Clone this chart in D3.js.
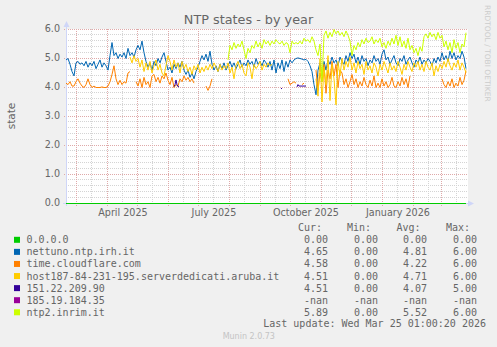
<!DOCTYPE html>
<html>
<head>
<meta charset="utf-8">
<script src="https://cdn.jsdelivr.net/npm/d3@7"></script>
<style>
  html, body { margin: 0; padding: 0; background: #F0F0F0; }
  svg { display: block; }
</style>
</head>
<body>
<svg id="chart" width="497" height="347"></svg>
<script>
// ---- data -----------------------------------------------------------
// Daily NTP peer state, sampled every 2 days from the start of the window.
const DAY_STEP = 2;
const startTime = Date.UTC(2025, 1, 18, 1, 0, 20);
const spanDays = 400;

const nettuno = [
  4.95, 5.0, 4.8, 4.55, 4.4, 4.85, 4.9, 4.8, 4.85, 4.75,
  4.9, 4.7, 4.85, 4.75, 4.9, 4.65, 4.8, 4.95, 4.7, 4.85,
  4.75, 4.6, 5.1, 5.55, 5.1, 5.2, 5.0, 5.15, 5.05, 5.2,
  5.0, 5.35, 5.1, 5.2, 5.05, 5.3, 5.45, 5.3, 5.6, 5.2,
  4.9, 4.7, 4.85, 4.6, 4.9, 4.75, 5.0, 4.85, 5.05, 5.2,
  4.9, 4.6, 4.7, 4.5, 4.8, 4.65, 4.85, 4.7, 4.9, 4.6,
  4.45, 4.6, 4.35, 4.5, 4.3, 4.55, 4.7, 4.9, 5.1, 4.95,
  5.15, 4.9, 5.25, 4.8, 4.6, 4.75, 4.55, 4.8, 4.65, 4.85,
  4.6, 4.75, 4.9, 4.7, 4.85, 4.65, 4.8, 4.95, 4.7, 4.85,
  4.75, 4.95, 4.8, 4.9, 4.7, 5.0, 4.8, 4.9, 4.75, 4.95,
  4.85, 4.7, 4.9, 4.6, 4.95, 4.5, 4.85, 4.65, 4.95, 4.55,
  4.9, 4.7, 4.95, 4.85, 4.95, 5.0, 5.02, 5.0, 4.98, 4.95,
  4.97, 4.9, 4.75, 4.55, 4.1, 3.75, 4.6, 4.85, 4.4, 4.9,
  4.6, 4.95, 4.8, 5.05, 4.85, 4.95, 4.75, 5.05, 4.9, 4.8,
  5.1, 4.9, 5.2, 5.0, 5.15, 4.85, 5.05, 4.8, 5.1, 4.9,
  5.0, 4.75, 4.95, 4.85, 5.1, 4.9, 5.0, 4.8, 5.15, 5.3,
  4.95, 5.05, 4.8, 4.95, 5.1, 4.85, 4.75, 5.0, 4.9, 5.1,
  4.8, 4.95, 5.05, 4.85, 4.7, 4.95, 4.85, 5.05, 4.8, 4.95,
  4.85, 5.0, 4.9, 4.75, 5.0, 4.85, 5.05, 4.9, 5.2, 4.95,
  5.1, 4.9, 5.25, 5.0, 5.2, 4.95, 5.1, 5.0, 5.25, 5.05,
  4.65
];

const cloudflare = [
  4.15, 4.1, 4.2, 4.05, 4.05, 4.2, 4.3, 4.15, 4.05, 4.0,
  4.1, 4.3, 4.1, 4.0, 4.05, 4.0, 4.0, 4.0, 4.02, 4.0,
  4.0, 4.05, 4.2, 4.45, 4.75, 4.3, 4.1, 4.25, 4.1, 4.2,
  4.15, 4.5, 4.55, null, null, 4.2, 4.05, 4.3, 4.0, 4.35,
  4.1, 4.2, 4.0, 4.4, 4.45, 4.2, 4.35, 4.15, 4.4, 4.3,
  4.5, 4.25, 4.1, 4.35, 4.0, 4.1, 4.05, 4.3, 4.2, 4.4,
  4.25, 4.35, 4.2, 4.3, 4.15, null, null, null, null, null,
  4.05, 3.9, 4.05, 4.3, null, null, null, null, null, null,
  null, null, null, null, null, null, null, null, null, null,
  null, null, null, null, null, null, null, null, null, null,
  null, null, null, null, null, null, null, null, null, null,
  null, 4.3, 4.1, 4.15, 4.2, 4.15, null, null, 4.1, 4.15,
  null, null, null, null, null, 4.6, 3.9, 4.5, 4.2, 4.8,
  3.8, 4.6, 4.3, 4.9, 4.4, 4.8, 4.0, 4.6, 4.5, 4.1,
  4.3, 4.0, 4.2, 4.45, 4.1, 4.3, 4.0, 4.2, 4.05, 4.35,
  4.1, 4.0, 4.25, 4.05, 4.4, 4.0, 4.15, 4.0, 4.3, 4.05,
  4.2, 4.0, 4.1, 4.35, 4.05, 4.0, 4.2, 4.05, 4.35, 4.1,
  4.3, 4.0, 4.4, null, null, null, null, null, null, null,
  null, null, null, null, null, null, null, null, 4.3, 4.1,
  4.0, 4.2, 4.05, 4.3, 4.0, 4.15, 4.05, 4.35, 4.1, 4.25,
  4.58
];

const aruba = [
  null, null, null, null, null, null, null, null, null, null,
  null, null, null, null, null, null, null, null, null, null,
  null, null, null, null, null, null, null, null, null, null,
  null, null, 5.05, 4.85, 5.1, 4.9, 5.0, 4.7, 4.95, 4.55,
  4.85, 4.6, 4.9, 4.5, 4.75, 4.95, 4.6, 4.8, 4.5, 4.4,
  4.75, 5.1, 4.9, 4.6, 4.95, 4.7, 4.85, 4.5, 4.9, 4.65,
  4.8, 4.55, 4.7, 4.45, 4.75, 4.6, 4.8, 4.5, 4.7, 4.55,
  4.75, 4.6, 4.8, 4.65, 4.85, 4.7, 4.55, 4.8, 4.6, 4.75,
  4.65, 4.85, 4.5, 4.7, 4.3, 4.75, 4.9, 4.65, 4.8, 4.5,
  4.4, 4.85, 4.7, 4.3, 4.8, 4.65, 4.75, 4.9, 4.6, 4.8,
  4.7, 4.85, 4.75, 4.8, null, null, null, null, null, null,
  null, null, null, null, null, null, null, null, null, null,
  null, null, null, null, null, 4.3, 3.7, 5.0, 3.5, 4.7,
  4.1, 5.1, 3.55, 4.8, 4.3, 3.4, 4.9, 4.4, 5.0, 4.6,
  4.9, 4.7, 5.05, 4.6, 4.85, 4.5, 4.9, 4.65, 4.8, 4.45,
  4.9, 4.6, 4.75, 4.5, 4.85, 4.7, 4.4, 4.8, 4.6, 4.9,
  4.7, 4.5, 4.85, 4.6, 4.75, 4.55, 4.9, 4.7, 4.45, 4.8,
  4.6, 4.9, 4.7, 4.55, 4.85, 4.7, 4.9, 4.6, 4.8, 4.55,
  4.9, 4.7, 4.6, 4.85, 4.4, 4.75, 4.55, 4.8, 4.65, 4.9,
  4.7, 5.0, 4.75, 4.6, 4.85, 4.7, 4.95, 4.6, 4.85, 4.7,
  4.51
];

const inrim = [
  null, null, null, null, null, null, null, null, null, null,
  null, null, null, null, null, null, null, null, null, null,
  null, null, null, null, null, null, null, null, null, null,
  null, null, null, null, null, null, null, null, null, null,
  null, null, null, null, null, null, null, null, null, null,
  null, null, null, null, null, null, null, null, null, null,
  null, null, null, null, null, null, null, null, null, null,
  null, null, null, null, null, null, null, null, null, null,
  null, 4.95, 5.45, 5.3, 5.55, 5.35, 5.5, 5.4, 5.6, 5.3,
  5.0, 5.35, 5.2, 5.45, 5.35, 5.6, 5.4, 5.55, 5.35, 5.65,
  5.5, 5.6, 5.45, 5.6, 5.5, 5.65, 5.55, 5.5, 5.6, 5.45,
  5.55, 5.5, 5.2, 5.6, 5.5, 5.55, 5.5, 5.6, 5.5, 5.7,
  5.6, 5.65, 5.55, 5.75, 5.6, 5.3, 5.1, 5.5, 4.2, 5.8,
  5.95, 5.7, 5.9, 5.75, 6.0, 5.85, 5.95, 5.8, 5.9, 5.75,
  5.95, 5.8, 5.6, 5.1, 5.45, 5.3, 5.55, 5.4, 5.65, 5.5,
  5.7, 5.55, 5.6, 5.75, 5.5, 5.65, 5.55, 5.7, 5.4, 5.55,
  5.35, 5.6, 5.45, 5.7, 5.5, 5.8, 5.45, 5.75, 5.4, 5.6,
  5.35, 5.7, 5.3, 5.45, 5.2, 5.35, 5.1, 5.4, 5.25, 5.75,
  5.85, 5.7, 5.9, 5.75, 5.85, 5.65, 5.9, 5.7, 5.8, 5.4,
  5.6, 5.3, 5.55, 5.2, 5.65, 5.35, 5.55, 5.2, 5.5, 5.4,
  5.89
];

// Sparse peers: [day, state] pairs; a null state breaks the line.
const unspecified = [[0, 0], [400, 0]];
const peer15122 = [
  [108, 4.03], [109, 4.1], [110, 4.26], [111, 4.1], [112, 4.03], [113, 4.03],
  [114, null],
  [215, 3.95], [216, 3.98],
  [217, null],
  [231, 4.02], [232, 4.1], [233, 4.05], [236, 4.05], [240, 4.05]
];
const peer18519 = [];

// Legend table
const legendNames = [
  "0.0.0.0", "nettuno.ntp.irh.it", "time.cloudflare.com",
  "host187-84-231-195.serverdedicati.aruba.it", "151.22.209.90",
  "185.19.184.35", "ntp2.inrim.it"
];
const legendColors = ["#00CC00", "#0066B3", "#FF8000", "#FFCC00", "#330099", "#990099", "#CCFF00"];
const curVals = ["0.00", "4.65", "4.58", "4.51", "4.51", "-nan", "5.89"];
const minVals = ["0.00", "0.00", "0.00", "0.00", "0.00", "-nan", "0.00"];
const avgVals = ["0.00", "4.81", "4.22", "4.71", "4.07", "-nan", "5.52"];
const maxVals = ["0.00", "6.00", "6.00", "6.00", "5.00", "-nan", "6.00"];
const colHeaders = ["Cur:", "Min:", "Avg:", "Max:"];

const yTicks = [0, 1, 2, 3, 4, 5, 6];
const quarterLabels = [
  {month: Date.UTC(2025, 3, 1), text: "April 2025"},
  {month: Date.UTC(2025, 6, 1), text: "July 2025"},
  {month: Date.UTC(2025, 9, 1), text: "October 2025"},
  {month: Date.UTC(2026, 0, 1), text: "January 2026"}
];

// ---- drawing --------------------------------------------------------
const DAY_MS = 86400000;
const svg = d3.select("#chart");
const W = 497, H = 347;
const plot = {left: 66, right: 468, top: 29, bottom: 203};

const x = d3.scaleUtc()
  .domain([new Date(startTime), new Date(startTime + spanDays * DAY_MS)])
  .range([66, 466]);
const y = d3.scaleLinear().domain([0, 6]).range([plot.bottom, plot.top]);
const dayDate = d => new Date(startTime + d * DAY_MS);
const crisp = v => Math.floor(v) + 0.5;

svg.append("rect").attr("width", W).attr("height", H).attr("fill", "#F0F0F0");
svg.append("rect")
  .attr("x", plot.left).attr("y", plot.top)
  .attr("width", plot.right - plot.left).attr("height", plot.bottom - plot.top)
  .attr("fill", "#FFFFFF");

const grid = svg.append("g").attr("stroke-width", 1).attr("fill", "none")
  .attr("shape-rendering", "crispEdges");
const minorColor = "#D4D4D4", majorColor = "#DFA9A9";

// horizontal minor lines every 0.2, major every 1.0
d3.range(1, 30).forEach(k => {
  if (k % 5 === 0) return;
  const yy = crisp(y(k / 5));
  grid.append("line").attr("x1", plot.left).attr("x2", plot.right)
    .attr("y1", yy).attr("y2", yy)
    .attr("stroke", minorColor).attr("stroke-dasharray", "1,1");
});
// vertical minor lines on the 16th of each month
const [t0, t1] = x.domain();
d3.utcMonths(d3.utcMonth.offset(t0, -1), t1).forEach(m => {
  const d = new Date(Date.UTC(m.getUTCFullYear(), m.getUTCMonth(), 16));
  if (d < t0 || d > t1) return;
  const xx = crisp(x(d));
  grid.append("line").attr("x1", xx).attr("x2", xx)
    .attr("y1", plot.top).attr("y2", plot.bottom)
    .attr("stroke", minorColor).attr("stroke-dasharray", "1,1");
});
// vertical major lines at month starts
d3.utcMonths(t0, t1).forEach(m => {
  const xx = crisp(x(m));
  grid.append("line").attr("x1", xx).attr("x2", xx)
    .attr("y1", plot.top).attr("y2", plot.bottom + 3)
    .attr("stroke", majorColor).attr("stroke-dasharray", "1,1");
});
yTicks.forEach(v => {
  if (v === 0) return;
  const yy = crisp(y(v));
  grid.append("line").attr("x1", plot.left - 2).attr("x2", plot.right)
    .attr("y1", yy).attr("y2", yy)
    .attr("stroke", majorColor).attr("stroke-dasharray", "1,1");
});

// axes
const axisColor = "#CFD6F8";
const axes = svg.append("g").attr("shape-rendering", "crispEdges");
axes.append("line").attr("x1", 66.5).attr("x2", 66.5)
  .attr("y1", plot.bottom + 3).attr("y2", 25).attr("stroke", axisColor);
axes.append("line").attr("x1", 63).attr("x2", 469)
  .attr("y1", 203.5).attr("y2", 203.5).attr("stroke", axisColor);
svg.append("path").attr("d", "M63.5,27 L69.5,27 L66.5,21 Z").attr("fill", axisColor);
svg.append("path").attr("d", "M468,200.5 L468,206.5 L474,203.5 Z").attr("fill", axisColor);

// tick labels
const fontSans = "'DejaVu Sans', sans-serif";
const fontMono = "'DejaVu Sans Mono', monospace";
const textColor = "#666666";

svg.append("g").selectAll("text").data(yTicks).join("text")
  .attr("x", 60).attr("y", v => y(v) + 3)
  .attr("text-anchor", "end")
  .attr("font-family", fontSans).attr("font-size", "9.6px").attr("fill", textColor)
  .text(v => v.toFixed(1));

svg.append("g").selectAll("text").data(quarterLabels).join("text")
  .attr("x", q => x(new Date(q.month + 15 * DAY_MS)))
  .attr("y", 216)
  .attr("text-anchor", "middle")
  .attr("font-family", fontSans).attr("font-size", "9.6px").attr("fill", textColor)
  .text(q => q.text);

// series
svg.append("clipPath").attr("id", "plotclip").append("rect")
  .attr("x", plot.left).attr("y", plot.top - 1)
  .attr("width", plot.right - plot.left).attr("height", plot.bottom - plot.top + 2);

const line = d3.line()
  .defined(p => p[1] !== null)
  .x(p => x(dayDate(p[0])))
  .y(p => y(p[1]) + 0.5);

const stepped = vals => vals.map((v, i) => [i * DAY_STEP, v]);

const series = [
  {pts: unspecified, color: legendColors[0]},
  {pts: stepped(nettuno), color: legendColors[1]},
  {pts: stepped(cloudflare), color: legendColors[2]},
  {pts: stepped(aruba), color: legendColors[3]},
  {pts: peer15122, color: legendColors[4]},
  {pts: peer18519, color: legendColors[5]},
  {pts: stepped(inrim), color: legendColors[6]}
];

const lines = svg.append("g").attr("clip-path", "url(#plotclip)");
series.forEach(s => {
  if (!s.pts.length) return;
  lines.append("path")
    .attr("d", line(s.pts))
    .attr("fill", "none")
    .attr("stroke", s.color)
    .attr("stroke-width", 1)
    .attr("stroke-linejoin", "round");
});

// title and labels
svg.append("text").attr("x", 248.5).attr("y", 24)
  .attr("text-anchor", "middle")
  .attr("font-family", fontSans).attr("font-size", "12.8px").attr("fill", textColor)
  .text("NTP states - by year");

svg.append("text")
  .attr("transform", "translate(15,116) rotate(-90)")
  .attr("text-anchor", "middle")
  .attr("font-family", fontSans).attr("font-size", "10.5px").attr("fill", textColor)
  .text("state");

svg.append("text")
  .attr("transform", "translate(485,5) rotate(90)")
  .attr("text-anchor", "start")
  .attr("font-family", fontSans).attr("font-size", "7.5px").attr("fill", "#CCCCCC")
  .text("RRDTOOL / TOBI OETIKER");

// legend
const legend = svg.append("g").attr("font-family", fontMono).attr("font-size", "10px")
  .attr("fill", textColor);
const headerRight = [322, 371, 420.5, 470];
const valueRight = [328, 378, 427, 477];
colHeaders.forEach((h, i) => {
  legend.append("text").attr("x", headerRight[i]).attr("y", 231.3)
    .attr("text-anchor", "end").text(h);
});
const cols = [curVals, minVals, avgVals, maxVals];
legendNames.forEach((name, r) => {
  const by = 243.3 + r * 12.08;
  legend.append("rect").attr("x", 14).attr("y", by - 6.5)
    .attr("width", 6).attr("height", 6).attr("fill", legendColors[r]);
  legend.append("text").attr("x", 26.5).attr("y", by).text(name);
  cols.forEach((c, i) => {
    legend.append("text").attr("x", valueRight[i]).attr("y", by)
      .attr("text-anchor", "end").text(c[r]);
  });
});
legend.append("text").attr("x", 486).attr("y", 327.3)
  .attr("text-anchor", "end").text("Last update: Wed Mar 25 01:00:20 2026");

svg.append("text").attr("x", 248.8).attr("y", 339)
  .attr("text-anchor", "middle")
  .attr("font-family", fontSans).attr("font-size", "8px").attr("fill", "#C4C4C4")
  .text("Munin 2.0.73");
</script>
</body>
</html>
